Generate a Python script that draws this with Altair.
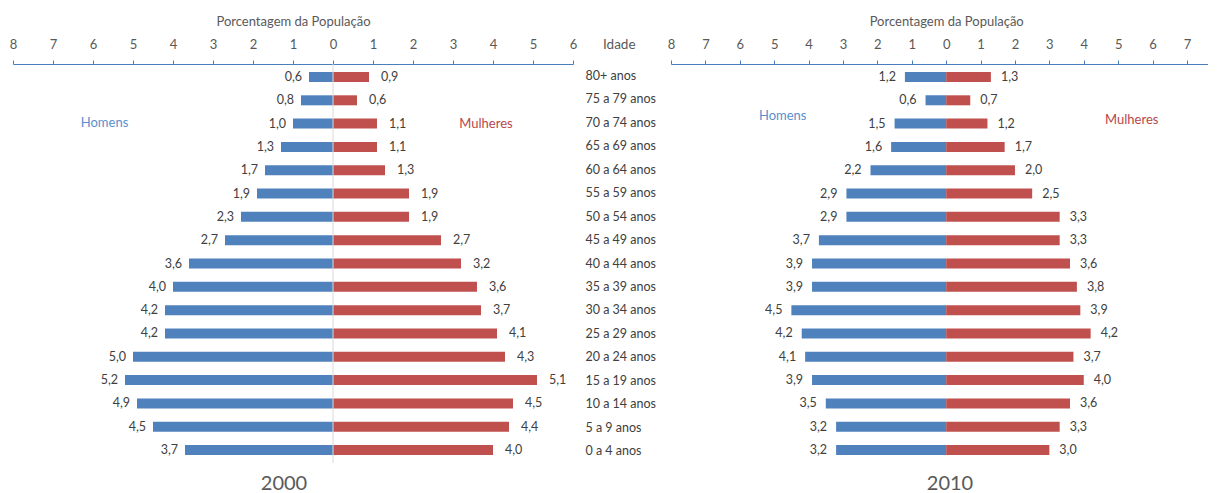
import altair as alt
import pandas as pd

ages = ["80+ anos", "75 a 79 anos", "70 a 74 anos", "65 a 69 anos", "60 a 64 anos",
        "55 a 59 anos", "50 a 54 anos", "45 a 49 anos", "40 a 44 anos", "35 a 39 anos",
        "30 a 34 anos", "25 a 29 anos", "20 a 24 anos", "15 a 19 anos", "10 a 14 anos",
        "5 a 9 anos", "0 a 4 anos"]

homens_2000 = [0.6, 0.8, 1.0, 1.3, 1.7, 1.9, 2.3, 2.7, 3.6, 4.0, 4.2, 4.2, 5.0, 5.2, 4.9, 4.5, 3.7]
mulheres_2000 = [0.9, 0.6, 1.1, 1.1, 1.3, 1.9, 1.9, 2.7, 3.2, 3.6, 3.7, 4.1, 4.3, 5.1, 4.5, 4.4, 4.0]
homens_2010 = [1.2, 0.6, 1.5, 1.6, 2.2, 2.9, 2.9, 3.7, 3.9, 3.9, 4.5, 4.2, 4.1, 3.9, 3.5, 3.2, 3.2]
mulheres_2010 = [1.3, 0.7, 1.2, 1.7, 2.0, 2.5, 3.3, 3.3, 3.6, 3.8, 3.9, 4.2, 3.7, 4.0, 3.6, 3.3, 3.0]

ticks_2000 = list(range(-8, 7))
ticks_2010 = list(range(-8, 8))

FONT = "Lato"
BLUE = "#4F81BD"
RED = "#C0504D"
AXIS_BLUE = "#4A7EBB"
GRAY = "#595959"
DARK = "#404040"

H = 399
PI = 0.571
PO = 0.343


def long_df(h, m):
    rows = []
    for a, vh, vm in zip(ages, h, m):
        rows.append({"age": a, "sexo": "Homens", "v": -vh})
        rows.append({"age": a, "sexo": "Mulheres", "v": vm})
    return pd.DataFrame(rows)


yscale = alt.Scale(domain=ages, paddingInner=PI, paddingOuter=PO)
y_enc = alt.Y("age:N", scale=yscale, axis=None, sort=ages)


def panel(df, domain, ticks, width, year, year_x, hom_xy, mul_xy, title_x, zero_line, dx_h, dx_m):
    base = alt.Chart(df).transform_calculate(
        lbl="replace(format(abs(datum.v), '.1f'), '.', ',')"
    )
    xscale = alt.Scale(domain=domain, nice=False, zero=False)
    axis = alt.Axis(orient="top", values=ticks, tickCount=len(ticks),
                    labelExpr="abs(datum.value)",
                    title="Porcentagem da População", grid=False,
                    domainColor=AXIS_BLUE, tickColor=AXIS_BLUE, tickSize=4,
                    labelPadding=9, labelFontSize=13, labelColor=GRAY, labelFont=FONT,
                    labelFlush=False, labelOverlap=False, labelSeparation=0,
                    titleFont=FONT, titleFontSize=13, titleColor=GRAY,
                    titleFontWeight="normal", titlePadding=10, titleX=title_x)
    xenc = alt.X("v:Q", scale=xscale, axis=axis)
    bars = base.mark_bar().encode(
        x=xenc,
        y=y_enc,
        color=alt.Color("sexo:N", scale=alt.Scale(domain=["Homens", "Mulheres"], range=[BLUE, RED]),
                        legend=None),
    )
    lab_h = base.transform_filter(alt.datum.sexo == "Homens").mark_text(
        align="right", baseline="middle", dx=dx_h, font=FONT, fontSize=12.5, color=DARK
    ).encode(x=xenc, y=y_enc, text="lbl:N")
    lab_m = base.transform_filter(alt.datum.sexo == "Mulheres").mark_text(
        align="left", baseline="middle", dx=dx_m, font=FONT, fontSize=12.5, color=DARK
    ).encode(x=xenc, y=y_enc, text="lbl:N")
    ann = alt.Chart(pd.DataFrame({"t": [year]})).mark_text(
        align="center", baseline="middle", font=FONT, fontSize=20, color=GRAY
    ).encode(x=alt.value(year_x), y=alt.value(H + 21), text="t:N")
    hom = alt.Chart(pd.DataFrame({"t": ["Homens"]})).mark_text(
        align="center", baseline="middle", font=FONT, fontSize=13, color="#5B8FCB"
    ).encode(x=alt.value(hom_xy[0]), y=alt.value(hom_xy[1]), text="t:N")
    mul = alt.Chart(pd.DataFrame({"t": ["Mulheres"]})).mark_text(
        align="center", baseline="middle", font=FONT, fontSize=13, color="#B8474A"
    ).encode(x=alt.value(mul_xy[0]), y=alt.value(mul_xy[1]), text="t:N")
    layers = [bars]
    if zero_line:
        layers.append(base.transform_filter(alt.datum.age == ages[0])
                      .transform_filter(alt.datum.sexo == "Homens")
                      .transform_calculate(z="0")
                      .mark_rule(color="#D9D9D9", strokeWidth=1)
                      .encode(x=alt.X("z:Q", scale=xscale, axis=axis)))
    layers += [lab_h, lab_m, ann, hom, mul]
    return alt.layer(*layers).properties(width=width, height=H)


left = panel(long_df(homens_2000, mulheres_2000), [-8, 6], ticks_2000, 560, "2000",
             271, (91.5, 59), (473, 60), 280, True, -7, 12)
right = panel(long_df(homens_2010, mulheres_2010), [-8, 7.6], ticks_2010, 536.6, "2010",
              279, (111.7, 52), (460.7, 56), 275.2, False, -9, 10)

mid_df = pd.DataFrame({"age": ages})
mid_text = alt.Chart(mid_df).mark_text(
    align="left", baseline="middle", font=FONT, fontSize=12.5, color=DARK
).encode(x=alt.value(12.5), y=y_enc, text="age:N")
idade = alt.Chart(pd.DataFrame({"t": ["Idade"]})).mark_text(
    align="left", baseline="middle", font=FONT, fontSize=13.5, color=GRAY
).encode(x=alt.value(30), y=alt.value(-19), text="t:N")
middle = alt.layer(mid_text, idade).properties(width=97.2, height=H)

chart = alt.hconcat(left, middle, right, spacing=0, bounds="flush").properties(
    padding={"left": 1, "top": 7, "right": 0, "bottom": 0},
    background="white",
).configure_view(stroke=None)

chart.save("out.html", embed_options={"renderer": "svg", "actions": False})
